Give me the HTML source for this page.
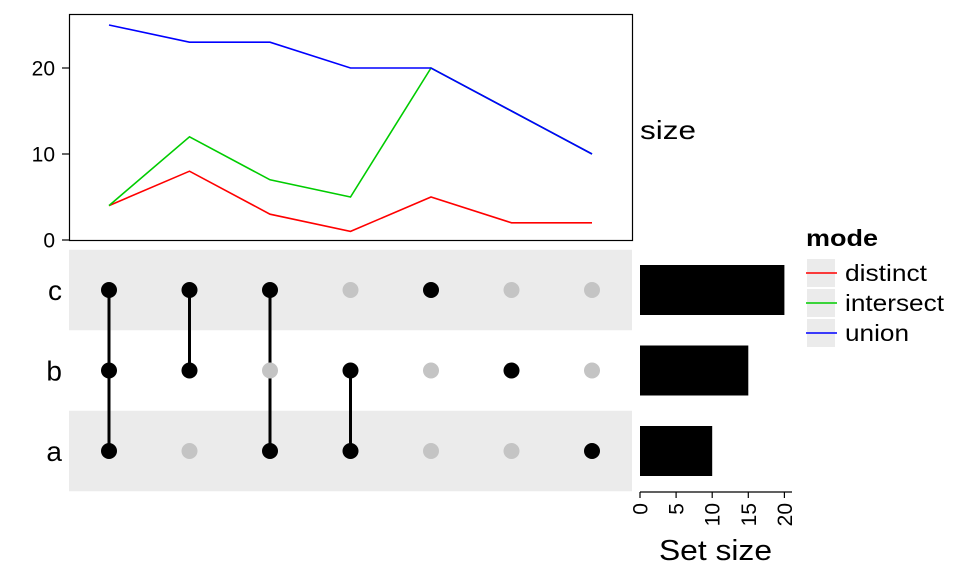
<!DOCTYPE html>
<html><head><meta charset="utf-8"><style>
body{margin:0;background:#fff;}
svg{display:block;font-family:"Liberation Sans",Arial,sans-serif;}
</style></head><body>
<svg id="c" width="960" height="576" viewBox="0 0 960 576"></svg>
<script>
const columns=["abc","bc","ac","ab","c","b","a"];
const distinctVals=[4,8,3,1,5,2,2];
const intersectVals=[4,12,7,5,20,15,10];
const unionVals=[25,23,23,20,20,15,10];
const yTicks=[0,10,20];
const setNames=["c","b","a"];
const setSizes=[20,15,10];
const sizeTicks=[0,5,10,15,20];
const membership=[[1,1,1],[1,1,0],[1,0,1],[0,1,1],[1,0,0],[0,1,0],[0,0,1]]; // [c,b,a]

const NS="http://www.w3.org/2000/svg";
const svg=document.getElementById('c');
function mk(t,a,p){const e=document.createElementNS(NS,t);for(const k in a)e.setAttribute(k,a[k]);(p||svg).appendChild(e);return e;}
const xCol=i=>109+i*80.5;
const yTop=v=>240-v*8.6;
const yRow=i=>290+i*80.5;
const xBar=v=>640+v*7.22;

// top panel
let el=mk('rect',{x:69.5,y:14.5,width:563,height:226,fill:'#fff',stroke:'#000','stroke-width':1.2});


yTicks.forEach(t=>{
  let l=mk('line',{x1:62,x2:69,y1:yTop(t),y2:yTop(t),stroke:'#000','stroke-width':1.2});
  
  
  let tx=mk('text',{x:55,y:yTop(t)+7.5,'text-anchor':'end','font-size':21});
  tx.textContent=t;
  
  
});
[[distinctVals,'#f00','distinct'],[intersectVals,'#0c0','intersect'],[unionVals,'#00f','union']].forEach(([vals,col,n])=>{
  let p=mk('polyline',{points:vals.map((v,i)=>xCol(i)+','+yTop(v)).join(' '),fill:'none',stroke:col,'stroke-width':1.6});
  
  
});
el=mk('text',{x:640,y:139,'font-size':26,textLength:56,lengthAdjust:'spacingAndGlyphs'});el.textContent='size';



// matrix bands
[0,2].forEach(i=>{
  let r=mk('rect',{x:69,y:yRow(i)-40.25,width:563,height:80.5,fill:'#ebebeb'});
  
  
});
setNames.forEach((s,i)=>{
  let t=mk('text',{x:62,y:yRow(i)+10,'text-anchor':'end','font-size':28});t.textContent=s;
  
  
});
membership.forEach((m,ci)=>{
  const on=m.map((v,i)=>v?i:-1).filter(v=>v>=0);
  if(on.length>1){
    let l=mk('line',{x1:xCol(ci),x2:xCol(ci),y1:yRow(on[0]),y2:yRow(on[on.length-1]),stroke:'#000','stroke-width':3});
    
    
  }
  m.forEach((v,ri)=>{
    let c=mk('circle',{cx:xCol(ci),cy:yRow(ri),r:8,fill:v?'#000':'#c4c4c4'});
    
    
  });
});

// set size bars
setSizes.forEach((v,i)=>{
  let r=mk('rect',{x:xBar(0),y:yRow(i)-25,width:xBar(v)-xBar(0),height:50,fill:'#000'});
  
  
});
el=mk('line',{x1:640,x2:792,y1:492,y2:492,stroke:'#000','stroke-width':1.2});


sizeTicks.forEach(t=>{
  let l=mk('line',{x1:xBar(t),x2:xBar(t),y1:492,y2:498,stroke:'#000','stroke-width':1.2});
  
  
  let tx=mk('text',{x:0,y:0,'text-anchor':'end','font-size':21,transform:`translate(${xBar(t)+7.5},503) rotate(-90)`});
  tx.textContent=t;
  
  
});
el=mk('text',{x:659,y:560,'font-size':29,textLength:113,lengthAdjust:'spacingAndGlyphs'});el.textContent='Set size';



// legend
el=mk('text',{x:806,y:246,'font-size':23,'font-weight':'bold',textLength:72,lengthAdjust:'spacingAndGlyphs'});el.textContent='mode';


const legW={distinct:82,intersect:99,union:64};
[['distinct','#f00'],['intersect','#0c0'],['union','#00f']].forEach(([n,col],i)=>{
  const y=259+i*30;
  let r=mk('rect',{x:807,y:y,width:28,height:28,fill:'#ebebeb'});
  
  
  let l=mk('line',{x1:806,x2:837,y1:y+14,y2:y+14,stroke:col,'stroke-width':1.6});
  
  
  let t=mk('text',{x:845,y:y+22,'font-size':23,textLength:legW[n],lengthAdjust:'spacingAndGlyphs'});t.textContent=n;
  
  
});
</script>
</body></html>
